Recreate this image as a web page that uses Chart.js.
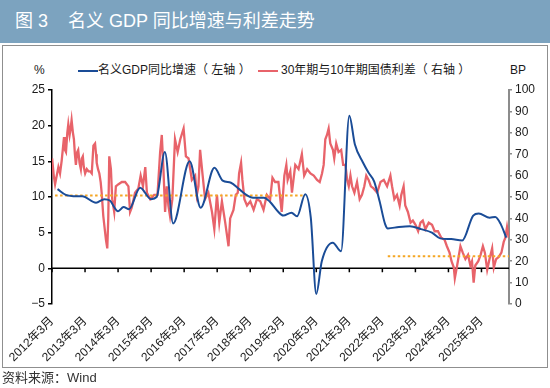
<!DOCTYPE html>
<html>
<head>
<meta charset="utf-8">
<script src="https://cdn.jsdelivr.net/npm/chart.js@4.4.1/dist/chart.umd.min.js"></script>
<style>
body { margin: 0; background: #fff; font-family: "Liberation Sans", "Noto Sans CJK SC", sans-serif; }
#wrap { position: relative; width: 550px; height: 388px; overflow: hidden; }
#head { position: absolute; left: 0; top: 0; width: 550px; height: 43px; background: #7ca3bf; }
.title { position: absolute; top: 10px; color: #fff; font-size: 18px; line-height: 22px; white-space: nowrap; }
#box { position: absolute; left: 2px; top: 45px; width: 544px; height: 321px; border: 1px solid #8f8f8f; }
.lg { position: absolute; top: 63px; font-size: 12px; line-height: 14px; color: #1a1a1a; white-space: nowrap; }
.sw { position: absolute; top: 70px; height: 2px; width: 20px; }
#src { position: absolute; left: 2px; top: 370px; font-size: 13px; line-height: 16px; color: #333; white-space: nowrap; }
canvas { position: absolute; left: 0; top: 0; }
</style>
</head>
<body>
<div id="wrap">
  <div id="head"></div>
  <div class="title" style="left:15px">图 3</div>
  <div class="title" style="left:68px">名义 GDP 同比增速与利差走势</div>
  <div id="box"></div>
  <div class="lg" style="left:34px">%</div>
  <div class="sw" style="left:78px;background:#1a4c97"></div>
  <div class="lg" style="left:98px">名义GDP同比增速（ 左轴 ）</div>
  <div class="sw" style="left:258px;background:#e8636a"></div>
  <div class="lg" style="left:281px">30年期与10年期国债利差（ 右轴 ）</div>
  <div class="lg" style="left:510px">BP</div>
  <canvas id="chart" width="550" height="388"></canvas>
  <div id="src">资料来源：Wind</div>
</div>
<script>
// 名义GDP同比增速（%，左轴）
const gdpDates = ['2012-05', '2012-08', '2012-12', '2013-02', '2013-07', '2013-10', '2013-12',
    '2014-03', '2014-05', '2014-07', '2014-11', '2015-03', '2015-05', '2015-08', '2015-11',
    '2016-05', '2016-09', '2017-02', '2017-05', '2017-08', '2017-11', '2018-02', '2018-04',
    '2018-08', '2018-10', '2019-01', '2019-03', '2019-06', '2019-08', '2019-11', '2020-01',
    '2020-03', '2020-05', '2020-09', '2020-12', '2021-03', '2021-05', '2021-08', '2021-10',
    '2021-12', '2022-02', '2022-04', '2022-05', '2022-09', '2023-01', '2023-05', '2023-09',
    '2023-12', '2024-04', '2024-08', '2024-12', '2025-02', '2025-06', '2025-08', '2025-10', '2025-12'];
const gdpValues = [11.1, 10.3, 10.1, 10.1, 9.2, 9.7, 9.5,
    8.0, 8.6, 8.3, 11.3, 9.7, 10.0, 16.3, 6.3,
    15.0, 8.5, 14.1, 12.3, 12.0, 11.1, 10.2, 9.9,
    9.9, 9.4, 8.0, 7.4, 7.8, 7.3, 10.4, 7.1,
    -3.6, 1.0, 3.6, 2.4, 21.4, 17.4, 14.8, 13.4,
    12.2, 9.4, 6.2, 5.6, 5.8, 5.9, 5.5, 5.0,
    4.2, 4.1, 3.9, 7.4, 7.7, 7.1, 7.2, 6.2, 4.3];

// 30年期与10年期国债利差（BP，右轴），时间为年份小数
const spreadTimes = [2012.17, 2012.22, 2012.26, 2012.31, 2012.36, 2012.41, 2012.46, 2012.53, 2012.56, 2012.59,
    2012.63, 2012.66, 2012.70, 2012.73, 2012.76, 2012.80, 2012.83, 2012.86, 2012.89, 2012.93,
    2012.96, 2013.00, 2013.04, 2013.07, 2013.10, 2013.13, 2013.17, 2013.22, 2013.27, 2013.32,
    2013.37, 2013.42, 2013.47, 2013.50, 2013.52, 2013.56, 2013.60, 2013.64, 2013.67, 2013.72,
    2013.77, 2013.80, 2013.84, 2013.87, 2013.90, 2013.95, 2013.99, 2014.05, 2014.10, 2014.18,
    2014.28, 2014.38, 2014.48, 2014.53, 2014.58, 2014.68, 2014.78, 2014.85, 2014.92, 2014.99,
    2015.04, 2015.14, 2015.26, 2015.36, 2015.44, 2015.49, 2015.54, 2015.59, 2015.64, 2015.69,
    2015.74, 2015.81, 2015.89, 2015.97, 2016.05, 2016.15, 2016.22, 2016.30, 2016.40, 2016.50,
    2016.55, 2016.60, 2016.65, 2016.72, 2016.80, 2016.90, 2017.01, 2017.08, 2017.16, 2017.23,
    2017.31, 2017.41, 2017.51, 2017.56, 2017.66, 2017.73, 2017.79, 2017.83, 2017.89, 2017.93,
    2017.99, 2018.07, 2018.17, 2018.27, 2018.37, 2018.47, 2018.57, 2018.67, 2018.77, 2018.84,
    2018.92, 2019.02, 2019.07, 2019.12, 2019.20, 2019.26, 2019.30, 2019.38, 2019.43, 2019.53,
    2019.63, 2019.73, 2019.80, 2019.89, 2019.99, 2020.09, 2020.19, 2020.27, 2020.34, 2020.39,
    2020.44, 2020.49, 2020.54, 2020.59, 2020.67, 2020.71, 2020.77, 2020.84, 2020.92, 2020.98,
    2021.05, 2021.10, 2021.15, 2021.20, 2021.25, 2021.32, 2021.40, 2021.48, 2021.55, 2021.62,
    2021.68, 2021.75, 2021.82, 2021.90, 2022.01, 2022.11, 2022.21, 2022.31, 2022.41, 2022.46,
    2022.53, 2022.61, 2022.69, 2022.74, 2022.81, 2022.86, 2022.94, 2023.02, 2023.09, 2023.17,
    2023.25, 2023.32, 2023.39, 2023.47, 2023.57, 2023.67, 2023.75, 2023.85, 2023.95, 2024.05,
    2024.12, 2024.20, 2024.26, 2024.33, 2024.36, 2024.43, 2024.53, 2024.60, 2024.68, 2024.76,
    2024.83, 2024.88, 2024.93, 2024.98, 2025.07, 2025.14, 2025.21, 2025.27, 2025.34, 2025.41,
    2025.49, 2025.54, 2025.61, 2025.69, 2025.77, 2025.84, 2025.89, 2025.94, 2025.99];
const spreadValues = [68, 60, 56, 60, 64, 61, 67, 78, 72, 71,
    80, 84, 79, 82, 86, 80, 77, 70, 65, 71,
    72, 66, 63, 68, 69, 64, 61, 63, 62, 62,
    61, 74, 75, 70, 66, 63, 61, 57, 52, 41,
    34, 30, 26, 40, 69, 63, 49, 43, 55, 56,
    57, 57, 55, 43, 45, 52, 54, 60, 55, 64,
    52, 49, 51, 51, 71, 79, 63, 43, 55, 46,
    41, 49, 77, 71, 77, 82, 69, 68, 58, 60,
    51, 55, 72, 61, 49, 52, 43, 35, 51, 38,
    48, 38, 27, 40, 44, 51, 52, 61, 66, 58,
    49, 46, 48, 44, 49, 48, 44, 51, 49, 59,
    57, 57, 50, 43, 60, 65, 58, 62, 52, 65,
    63, 70, 60, 63, 61, 60, 58, 57, 61, 65,
    77, 79, 82, 75, 72, 68, 75, 71, 72, 65,
    65, 58, 55, 60, 55, 52, 57, 49, 51, 55,
    60, 58, 55, 54, 52, 57, 58, 55, 60, 55,
    49, 51, 46, 51, 55, 46, 43, 38, 39, 37,
    34, 38, 39, 35, 38, 37, 34, 34, 31, 30,
    27, 24, 20, 17, 12, 18, 27, 24, 21, 23,
    18, 20, 10, 18, 20, 23, 27, 24, 16, 21,
    26, 17, 21, 22, 24, 29, 31, 36, 31];

// 参考均值线
const gdpAvgSpan = [2012.26, 2019.83];
const gdpAvgValue = 10.2;
const spreadAvgSpan = [2022.33, 2026.0];
const spreadAvgValue = 22.3;

const tickYears = [2012, 2013, 2014, 2015, 2016, 2017, 2018, 2019, 2020, 2021, 2022, 2023, 2024, 2025];

const FONT = '"Liberation Sans", "Noto Sans CJK SC", sans-serif';

function toYear(s) {
    const [y, m] = s.split('-').map(Number);
    return y + (m - 1) / 12;
}

// 零轴及年度刻度
const zeroAxis = {
    id: 'zeroAxis',
    beforeDatasetsDraw(chart) {
        const { ctx, chartArea, scales } = chart;
        const y0 = scales.yL.getPixelForValue(0);
        ctx.save();
        ctx.strokeStyle = '#000';
        ctx.lineWidth = 1.5;
        ctx.beginPath();
        ctx.moveTo(chartArea.left, y0);
        ctx.lineTo(chartArea.right, y0);
        scales.x.ticks.forEach(t => {
            const px = scales.x.getPixelForValue(t.value);
            ctx.moveTo(px, y0);
            ctx.lineTo(px, y0 + 4);
        });
        ctx.stroke();
        ctx.restore();
    }
};

const ctx = document.getElementById('chart').getContext('2d');
new Chart(ctx, {
    type: 'line',
    data: {
        datasets: [{
            label: '名义GDP同比增速（左轴）',
            data: gdpDates.map((d, i) => ({ x: toYear(d), y: gdpValues[i] })),
            yAxisID: 'yL',
            borderColor: '#1a4c97',
            borderWidth: 2,
            cubicInterpolationMode: 'monotone',
            pointRadius: 0
        }, {
            data: gdpAvgSpan.map(x => ({ x, y: gdpAvgValue })),
            yAxisID: 'yL',
            borderColor: '#f5a623',
            borderWidth: 2,
            borderDash: [2.5, 2.5],
            pointRadius: 0
        }, {
            data: spreadAvgSpan.map(x => ({ x, y: spreadAvgValue })),
            yAxisID: 'yR',
            borderColor: '#f5a623',
            borderWidth: 2,
            borderDash: [2.5, 2.5],
            pointRadius: 0
        }, {
            label: '30年期与10年期国债利差（右轴）',
            data: spreadTimes.map((t, i) => ({ x: t, y: spreadValues[i] })),
            yAxisID: 'yR',
            borderColor: '#e8636a',
            borderWidth: 2.3,
            tension: 0,
            pointRadius: 0
        }]
    },
    options: {
        responsive: false,
        animation: false,
        layout: { padding: { left: 0, right: 0, top: 90, bottom: 24 } },
        plugins: {
            legend: { display: false },
            tooltip: { enabled: false }
        },
        scales: {
            x: {
                type: 'linear',
                position: 'bottom',
                min: 2012 + 2 / 12,
                max: 2026.0,
                afterBuildTicks: (scale) => {
                    scale.ticks = tickYears.map(y => ({ value: y + 2 / 12 }));
                },
                afterFit: (scale) => { scale.height = 60; },
                grid: { display: false },
                border: { display: false },
                ticks: {
                    autoSkip: false,
                    minRotation: 45,
                    maxRotation: 45,
                    padding: 2,
                    color: '#1a1a1a',
                    font: { size: 12, family: FONT },
                    callback: (v) => Math.round(v - 2 / 12) + '年3月'
                }
            },
            yL: {
                position: 'left',
                min: -5,
                max: 25,
                afterFit: (scale) => { scale.width = 52; },
                grid: { display: true, drawOnChartArea: false, drawTicks: true, tickLength: 4, color: '#000', lineWidth: 1.5 },
                border: { display: true, color: '#000', width: 1.5 },
                ticks: {
                    stepSize: 5,
                    padding: 3,
                    color: '#1a1a1a',
                    font: { size: 12, family: FONT },
                    callback: (v) => String(v).replace('-', '−')
                }
            },
            yR: {
                position: 'right',
                min: 0,
                max: 100,
                afterFit: (scale) => { scale.width = 41; },
                grid: { display: true, drawOnChartArea: false, drawTicks: true, tickLength: 3, color: '#8c8c8c', lineWidth: 1.5 },
                border: { display: true, color: '#8c8c8c', width: 2 },
                ticks: {
                    stepSize: 10,
                    padding: 3,
                    color: '#1a1a1a',
                    font: { size: 12, family: FONT }
                }
            }
        }
    },
    plugins: [zeroAxis]
});
</script>
</body>
</html>
